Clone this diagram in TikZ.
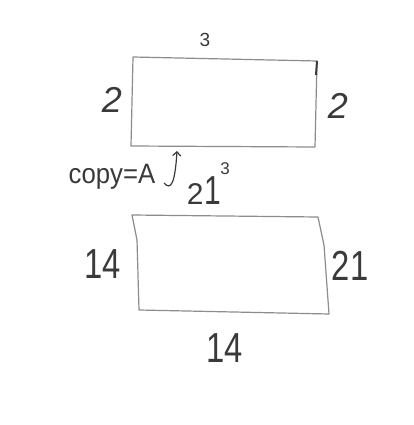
\documentclass[tikz,border=0pt]{standalone}
\usepackage{fontspec}
\setmainfont{Liberation Sans}
\usetikzlibrary{arrows.meta}
\definecolor{ink}{HTML}{3A3A3A}
\definecolor{pencil}{HTML}{8C8C8C}
\newcommand{\narrow}[1]{\scalebox{0.78}[1]{#1}}
\tikzset{
  edge/.style={draw=pencil, line width=1.2pt, line join=round},
  lbl/.style={text=ink, inner sep=0pt, font=\fontsize{42}{42}\selectfont},
}
\begin{document}
\begin{tikzpicture}[x=1pt,y=-1pt]
\useasboundingbox[fill=white] (0,0) rectangle (413,425);
% top rectangle
\coordinate (a1) at (133,57);
\coordinate (a2) at (317,61);
\coordinate (a3) at (315,147);
\coordinate (a4) at (131,146);
\draw[edge] (a1) -- (a2) -- (a3) -- (a4) -- cycle;
\coordinate (t1) at (317,61);
\coordinate (t2) at (316,75);
\draw[draw=ink, line width=2pt] (t1) -- (t2);
\node[text=ink, inner sep=0pt, font=\fontsize{19}{19}\selectfont] (top3) at (205,40) {3};
\node[text=ink, inner sep=0pt, font=\fontsize{36}{36}\selectfont] (left2) at (112,100) {\itshape 2};
\node[text=ink, inner sep=0pt, font=\fontsize{36}{36}\selectfont] (right2) at (338,106) {\itshape 2};
% copy = A with arrow
\node[text=ink, inner sep=0pt, font=\fontsize{28}{28}\selectfont] (copy) at (112,177) {\scalebox{0.92}[1]{copy=A}};
\coordinate (h0) at (164,183);
\coordinate (h1) at (177,151);
\draw[draw=ink, line width=1.2pt, -{Straight Barb[length=4pt]}] (h0) .. controls (171,191) and (175,183) .. (h1);
\node[text=ink, inner sep=0pt, font=\fontsize{30}{30}\selectfont, anchor=base] (n21) at (204,204) {2\kern1pt\scalebox{1}[1.35]{1}};
\node[text=ink, inner sep=0pt, font=\fontsize{17}{17}\selectfont] (sup3) at (225,169) {3};
% bottom rectangle
\coordinate (b1) at (132,215);
\coordinate (b2) at (318,217);
\coordinate (b3) at (329,314);
\coordinate (b4) at (139,310);
\draw[edge] (b1) -- (b2) -- (324,245) -- (b3) -- (b4) -- (137,240) -- cycle;
\node[lbl] (left14) at (103,264) {\narrow{14}};
\node[lbl] (right21) at (350,266) {\narrow{21}};
\node[lbl] (bot14) at (225,348) {\narrow{14}};
\end{tikzpicture}
\end{document}
